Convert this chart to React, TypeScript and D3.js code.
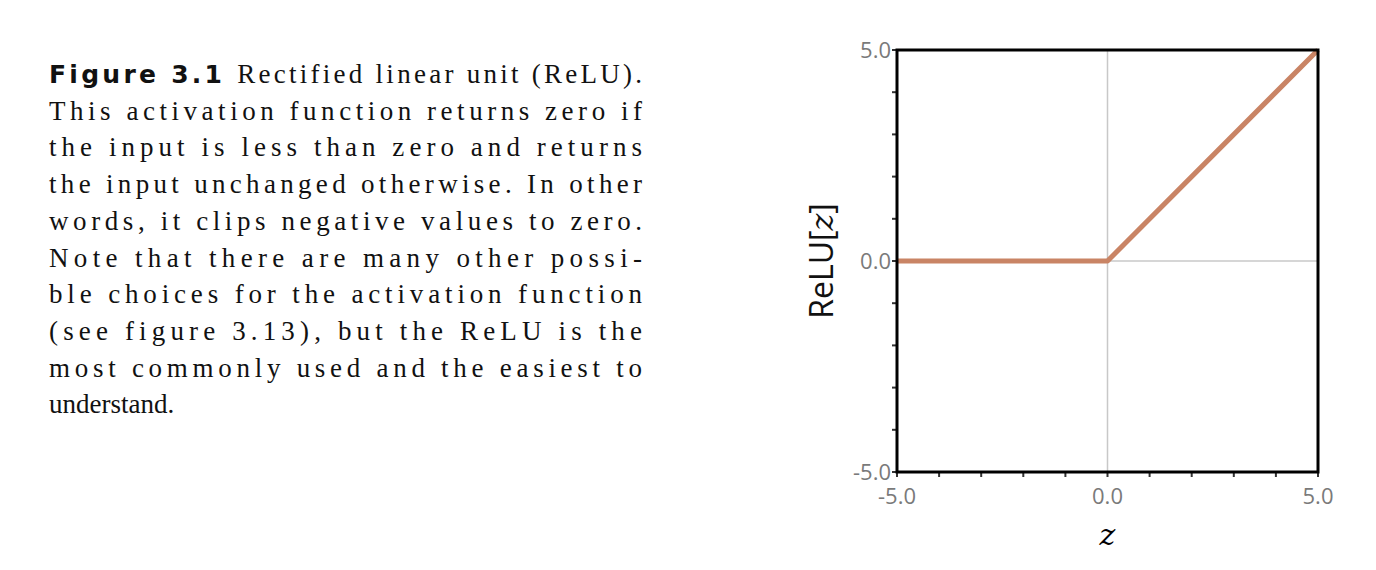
import * as d3 from "d3";

const xDomain = [-5, 5];
const yDomain = [-5, 5];
const zValues = [-5, 0, 5];
const reluValues = [0, 0, 5];
const tickLabels = [-5, 0, 5];
const minorTicks = d3.range(-5, 5.01, 1);

const captionLines = [
  "Rectified linear unit (ReLU).",
  "This activation function returns zero if",
  "the input is less than zero and returns",
  "the input unchanged otherwise. In other",
  "words, it clips negative values to zero.",
  "Note that there are many other possi-",
  "ble choices for the activation function",
  "(see figure 3.13), but the ReLU is the",
  "most commonly used and the easiest to",
  "understand.",
];

export default function App() {
  const x = d3.scaleLinear().domain(xDomain).range([897, 1318]);
  const y = d3.scaleLinear().domain(yDomain).range([472, 50]);
  const line = d3.line<number>().x((_, i) => x(zValues[i])).y((d) => y(d));
  const tickFont = "'Open Sans', sans-serif";

  return (
    <svg width={1376} height={570} style={{ position: "absolute", left: 0, top: 0, background: "#fff" }}>
      {captionLines.map((t, i) => (
        <text
          key={i}
          x={49}
          y={83 + i * 36.7}
          fontFamily="'Liberation Serif', serif"
          fontSize={27}
          fill="#111"
          textLength={i < captionLines.length - 1 ? 593 : undefined}
          lengthAdjust="spacing"
        >
          {i === 0 && (
            <tspan fontFamily="'DejaVu Sans', sans-serif" fontWeight="bold" fontSize={25}>
              Figure 3.1{" "}
            </tspan>
          )}
          {t}
        </text>
      ))}

      {/* grid lines at zero */}
      <line x1={x(0)} x2={x(0)} y1={y(5)} y2={y(-5)} stroke="#c8c8c8" strokeWidth={1.5} />
      <line x1={x(-5)} x2={x(5)} y1={y(0)} y2={y(0)} stroke="#c8c8c8" strokeWidth={1.5} />

      {/* minor ticks */}
      {minorTicks.map((v) => (
        <g key={v}>
          <line x1={x(v)} x2={x(v)} y1={y(-5)} y2={y(-5) + 5} stroke="#333" strokeWidth={2} />
          <line x1={x(-5) - 5} x2={x(-5)} y1={y(v)} y2={y(v)} stroke="#333" strokeWidth={2} />
        </g>
      ))}

      <path d={line(reluValues) ?? ""} fill="none" stroke="#c98465" strokeWidth={5} strokeLinejoin="round" />

      <rect x={x(-5)} y={y(5)} width={x(5) - x(-5)} height={y(-5) - y(5)} fill="none" stroke="#000" strokeWidth={3} />

      {tickLabels.map((v) => (
        <g key={v} fontFamily={tickFont} fontSize={22} fill="#7a7a7a">
          <text x={x(v)} y={y(-5) + 32} textAnchor="middle">{v.toFixed(1)}</text>
          <text x={x(-5) - 6} y={y(v) + 8} textAnchor="end">{v.toFixed(1)}</text>
        </g>
      ))}

      <text x={x(0)} y={545} textAnchor="middle" fontFamily="'DejaVu Serif', serif" fontStyle="italic" fontSize={30}>z</text>

      <text transform={`translate(833,${y(0)}) rotate(-90)`} textAnchor="middle" fontSize={32} fontFamily="'Open Sans', sans-serif" fill="#111">
        ReLU[<tspan fontFamily="'DejaVu Serif', serif" fontStyle="italic">z</tspan>]
      </text>
    </svg>
  );
}
